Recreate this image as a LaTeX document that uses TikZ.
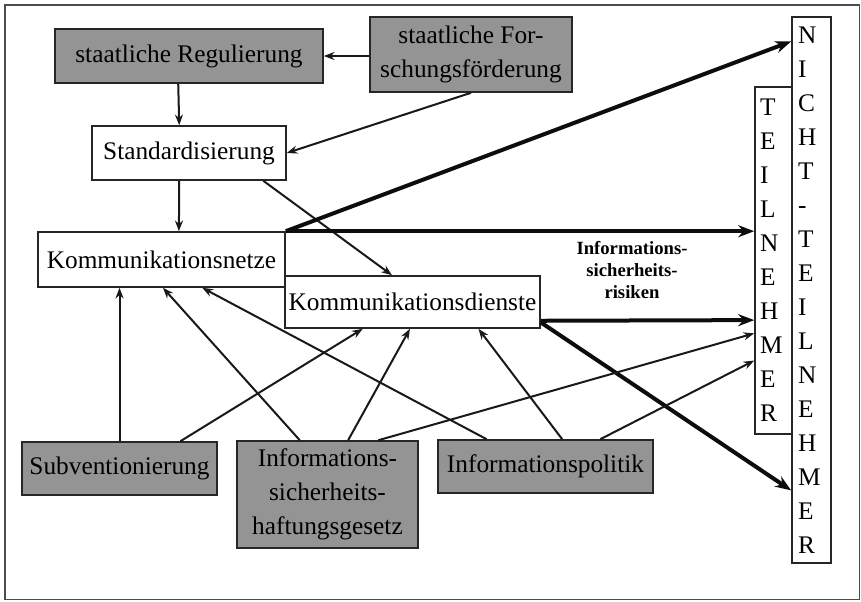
\documentclass[tikz,border=0pt]{standalone}
\usepackage{fontspec}
\setmainfont{Liberation Serif}
\usetikzlibrary{arrows.meta,calc}

\tikzset{
  box/.style={draw=black!85, line width=1.2pt, inner sep=0pt, align=center, font=\fontsize{19}{25.5}\selectfont},
  greybox/.style={box, fill=black!42},
  letterbox/.style={box, align=left, text width=20pt, inner xsep=3.5pt},
  link/.style={draw=black!90, line width=1.5pt, -{Stealth[length=8pt,width=6pt]}},
  heavy/.style={draw=black!95, line width=3pt, -{Stealth[length=12pt,width=9pt]}}
}

\begin{document}
\begin{tikzpicture}[x=0.75pt,y=0.75pt,yscale=-1]
        \useasboundingbox (0,0) rectangle (861,601);
        %frame
        \draw [black!70, line width=1.2pt] (5,5) rectangle (859.5,599.5);

        % Box Nodes
        \node [greybox, minimum width=201pt, minimum height=40.5pt] (reg) at (189,56) {staatliche Regulierung};
        \node [greybox, minimum width=151.5pt, minimum height=56.25pt] (forsch) at (471,54.5) {staatliche For-\\schungsförderung};
        \node [box, minimum width=145.5pt, minimum height=40.5pt] (std) at (189,153) {Standardisierung};
        \node [box, minimum width=185.25pt, minimum height=41.25pt] (netze) at (161.5,259.5) {Kommunikationsnetze};
        \node [box, minimum width=191.25pt, minimum height=39pt] (dienste) at (412.5,302) {Kommunikationsdienste};
        \node [greybox, minimum width=146.25pt, minimum height=39.75pt] (subv) at (119.5,468.5) {Subventionierung};
        \node [greybox, minimum width=135.75pt, minimum height=80.25pt] (haft) at (327.5,494.5) {Informations-\\sicherheits-\\haftungsgesetz};
        \node [greybox, minimum width=161.25pt, minimum height=39.75pt] (pol) at (545.5,466.5) {Informationspolitik};
        \node [letterbox, minimum width=27.75pt, minimum height=260.25pt] (teil) at (773.5,260.5) {T\\E\\I\\L\\N\\E\\H\\M\\E\\R};
        \node [letterbox, minimum width=29.25pt, minimum height=409.5pt] (nicht) at (811.5,290) {N\\I\\C\\H\\T\\-\\T\\E\\I\\L\\N\\E\\H\\M\\E\\R};
        % Text Node
        \node [align=center, inner sep=0pt, font=\bfseries\fontsize{14}{16.5}\selectfont] (risk) at (632,270) {Informations-\\sicherheits-\\risiken};

        %Straight Lines (top)
        \draw [link] (forsch.west |- reg.east) -- (reg.east);
        \draw [link] ($(reg.south west)!.46!(reg.south east)$) -- ($(std.north west)!.45!(std.north east)$);
        \draw [link] (forsch.south) -- (std.east);
        \draw [link] ($(std.south west)!.45!(std.south east)$) -- ($(netze.north west)!.57!(netze.north east)$);
        \draw [link] ($(std.south west)!.88!(std.south east)$) -- ($(dienste.north west)!.42!(dienste.north east)$);

        %Straight Lines (heavy, to the participants)
        \draw [heavy] (netze.north east) -- ($(nicht.north west)!.046!(nicht.south west)$);
        \draw [heavy] (netze.north east) -- (netze.north east -| teil.west);
        \draw [heavy] ($(dienste.north east)!.85!(dienste.south east)$) -- ($(teil.north west)!.671!(teil.south west)$);
        \draw [heavy] ($(dienste.north east)!.88!(dienste.south east)$) -- ($(nicht.north west)!.866!(nicht.south west)$);

        %Straight Lines (bottom)
        \draw [link] (subv.north) -- (subv.north |- netze.south);
        \draw [link] ($(subv.north west)!.81!(subv.north east)$) -- ($(dienste.south west)!.306!(dienste.south east)$);
        \draw [link] ($(haft.north west)!.348!(haft.north east)$) -- ($(netze.south west)!.506!(netze.south east)$);
        \draw [link] ($(haft.north west)!.613!(haft.north east)$) -- ($(dienste.south west)!.49!(dienste.south east)$);
        \draw [link] ($(haft.north west)!.779!(haft.north east)$) -- ($(teil.north west)!.709!(teil.south west)$);
        \draw [link] ($(pol.north west)!.228!(pol.north east)$) -- ($(netze.south west)!.664!(netze.south east)$);
        \draw [link] ($(pol.north west)!.577!(pol.north east)$) -- ($(dienste.south west)!.757!(dienste.south east)$);
        \draw [link] ($(pol.north west)!.753!(pol.north east)$) -- ($(teil.north west)!.787!(teil.south west)$);
\end{tikzpicture}
\end{document}
